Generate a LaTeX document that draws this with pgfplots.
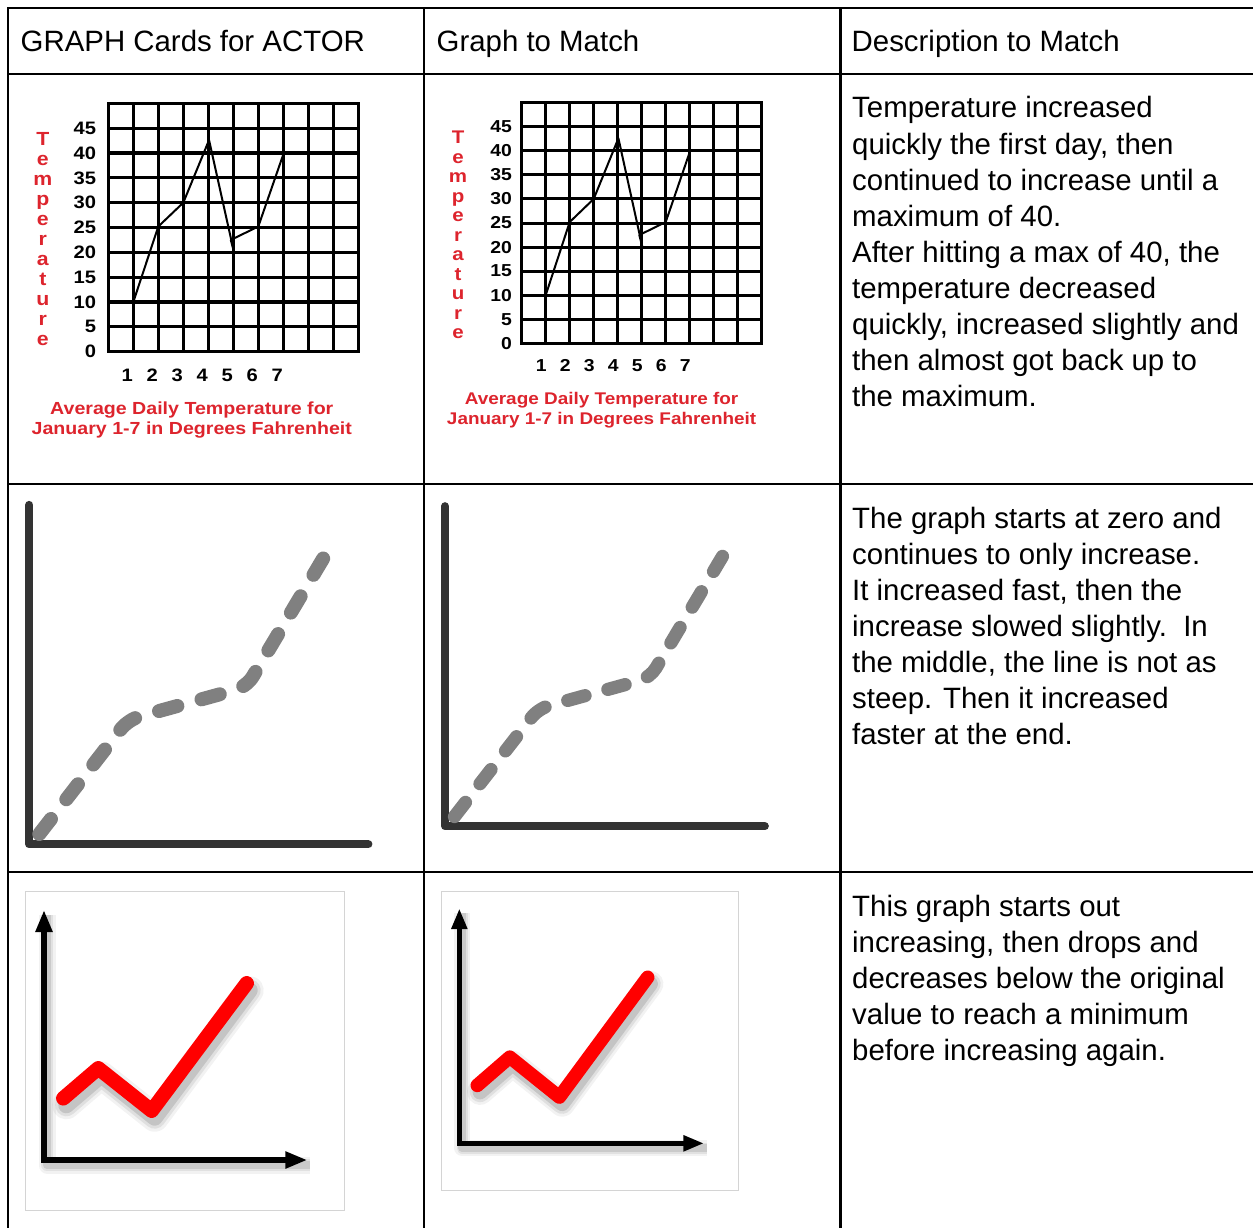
\documentclass[border=0pt]{standalone}
\usepackage{fontspec}
\setmainfont{Liberation Sans}
\newfontfamily\gfont{Liberation Sans}[FakeStretch=1.12]
\usepackage{pgfplots}
\usepackage{pgfplotstable}
\pgfplotsset{compat=1.18}
\usetikzlibrary{arrows.meta}
\definecolor{lab}{RGB}{221,36,45}
\definecolor{axd}{RGB}{51,51,51}
\definecolor{dsh}{RGB}{128,128,128}

\pgfplotstableread{
x y
1 10
2 25.2
3 30
4.03 42.6
5.02 20.2
4.9 22.5
6 25.2
7.02 40
}\tempdata

\pgfplotstableread{
x y
0 339.3
0 0
339 0
}\axBdata

\pgfplotstableread{
x y
10 10.3
99 124.8
217.3 157.4
294 286
}\curvedata

\pgfplotstableread{
x y
0 250
0 0
263.3 0
}\axCdata

\pgfplotstableread{
x y
19.3 61.7
54.3 91.7
107.7 49.3
202.7 176.7
}\redcheckdata

\newcommand\desc{\fontsize{29.4}{36}\selectfont}
\newcommand\tl[3]{\node[anchor=base west,inner sep=0pt,font=\desc] at (#1,#2) {#3};}

\begin{document}
\begin{tikzpicture}
\useasboundingbox (0pt,0pt) rectangle (1253pt,-1228pt);

% ---------- table and text ----------
\begin{scope}[x=1pt,y=-1pt]
\draw[line width=2.7pt,line cap=rect] (8,8) -- (1275,8);
\draw[line width=2.7pt,line cap=rect] (8,74) -- (1275,74);
\draw[line width=2.7pt,line cap=rect] (8,484) -- (1275,484);
\draw[line width=2.7pt,line cap=rect] (8,872) -- (1275,872);
\draw[line width=2.7pt,line cap=rect] (8,8) -- (8,1240);
\draw[line width=2.7pt,line cap=rect] (424,8) -- (424,1240);
\draw[line width=2.7pt,line cap=rect] (840.5,8) -- (840.5,1240);

\tl{20.5}{52}{GRAPH Cards for ACTOR}
\tl{436.5}{52}{Graph to Match}
\tl{851.5}{52}{Description to Match}

\tl{852}{118}{Temperature increased}
\tl{852}{154}{quickly the first day, then}
\tl{852}{190}{continued to increase until a}
\tl{852}{226}{maximum of 40.}
\tl{852}{262}{After hitting a max of 40, the}
\tl{852}{298}{temperature decreased}
\tl{852}{334}{quickly, increased slightly and}
\tl{852}{370}{then almost got back up to}
\tl{852}{406}{the maximum.}

\tl{852}{528}{The graph starts at zero and}
\tl{852}{564}{continues to only increase.}
\tl{852}{600}{It increased fast, then the}
\tl{852}{636}{increase slowed slightly.~\ In}
\tl{852}{672}{the middle, the line is not as}
\tl{852}{708}{steep. Then it increased}
\tl{852}{744}{faster at the end.}

\tl{852}{916}{This graph starts out}
\tl{852}{952}{increasing, then drops and}
\tl{852}{988}{decreases below the original}
\tl{852}{1024}{value to reach a minimum}
\tl{852}{1060}{before increasing again.}
\end{scope}

% ---------- temperature graph, column 1 ----------
\begin{axis}[
  at={(108.3pt,-351.7pt)}, anchor=south west, scale only axis,
  width=250pt, height=248.4pt,
  xmin=0, xmax=10, ymin=0, ymax=50,
  xtick={0,...,10}, ytick={0,5,...,50},
  xticklabels={,1,2,3,4,5,6,7,,,},
  yticklabels={0,5,10,15,20,25,30,35,40,45,},
  grid=major, major grid style={black,line width=3.1pt},
  axis line style={black,line width=3.1pt},
  major tick length=0pt,
  tick label style={font=\gfont\bfseries\fontsize{18}{20}\selectfont},
  xticklabel style={anchor=north,inner sep=0pt,yshift=-17pt,xshift=-6pt},
  yticklabel style={anchor=east,inner sep=0pt,xshift=-12pt},
  ylabel={\begin{tabular}{@{}c@{}}T\\e\\m\\p\\e\\r\\a\\t\\u\\r\\e\end{tabular}},
  ylabel style={rotate=-90,at={(axis description cs:-0.262,0.443)},anchor=center,
    text=lab,font=\gfont\bfseries\fontsize{19}{20}\selectfont},
  xlabel={Average Daily Temperature for\\January 1-7 in Degrees Fahrenheit},
  xlabel style={at={(axis description cs:0.334,-0.275)},anchor=center,align=center,
    text=lab,font=\gfont\bfseries\fontsize{17.5}{20}\selectfont},
]
\addplot[black,line width=2pt,line join=round] table {\tempdata};
\end{axis}

% ---------- temperature graph, column 2 ----------
\begin{axis}[
  at={(521.7pt,-343.3pt)}, anchor=south west, scale only axis,
  width=240pt, height=240.6pt,
  xmin=0, xmax=10, ymin=0, ymax=50,
  xtick={0,...,10}, ytick={0,5,...,50},
  xticklabels={,1,2,3,4,5,6,7,,,},
  yticklabels={0,5,10,15,20,25,30,35,40,45,},
  grid=major, major grid style={black,line width=3pt},
  axis line style={black,line width=3pt},
  major tick length=0pt,
  tick label style={font=\gfont\bfseries\fontsize{17.3}{19.5}\selectfont},
  xticklabel style={anchor=north,inner sep=0pt,yshift=-16pt,xshift=-4.5pt},
  yticklabel style={anchor=east,inner sep=0pt,xshift=-9.5pt},
  ylabel={\begin{tabular}{@{}c@{}}T\\e\\m\\p\\e\\r\\a\\t\\u\\r\\e\end{tabular}},
  ylabel style={rotate=-90,at={(axis description cs:-0.265,0.44)},anchor=center,
    text=lab,font=\gfont\bfseries\fontsize{18.3}{19.5}\selectfont},
  xlabel={Average Daily Temperature for\\January 1-7 in Degrees Fahrenheit},
  xlabel style={at={(axis description cs:0.333,-0.277)},anchor=center,align=center,
    text=lab,font=\gfont\bfseries\fontsize{16.9}{19.5}\selectfont},
]
\addplot[black,line width=2pt,line join=round] table {\tempdata};
\end{axis}

% ---------- dashed growth graph, column 1 ----------
\begin{axis}[at={(29.3pt,-844.3pt)}, anchor=south west, scale only axis,
  width=340pt, height=340pt, xmin=0, xmax=340, ymin=0, ymax=340,
  hide axis, clip=false]
\addplot[axd,line width=8.3pt,line cap=round,line join=round] table {\axBdata};
\addplot[dsh,line width=14pt,line cap=round,dash pattern=on 19pt off 25pt,
  rounded corners=12pt] table {\curvedata};
\end{axis}

% ---------- dashed growth graph, column 2 ----------
\begin{axis}[at={(445pt,-826.3pt)}, anchor=south west, scale only axis,
  width=320.9pt, height=320.9pt, xmin=0, xmax=340, ymin=0, ymax=340,
  hide axis, clip=false]
\addplot[axd,line width=7.8pt,line cap=round,line join=round] table {\axBdata};
\addplot[dsh,line width=13.2pt,line cap=round,dash pattern=on 18pt off 23.6pt,
  rounded corners=11pt] table {\curvedata};
\end{axis}

% ---------- red check graph, column 1 ----------
\begin{axis}[at={(25pt,-1210pt)}, anchor=south west, scale only axis,
  width=319.3pt, height=318.3pt, xmin=-19, xmax=300.3, ymin=-50, ymax=268.3,
  axis line style={draw=black!17,line width=1pt}, xtick=\empty, ytick=\empty,
  clip=false]
\addplot[black,opacity=0.05,line width=17pt,line join=round] table[x expr=\thisrow{x}+3,y expr=\thisrow{y}-5] {\axCdata};
\addplot[black,opacity=0.07,line width=12pt,line join=round] table[x expr=\thisrow{x}+3,y expr=\thisrow{y}-5] {\axCdata};
\addplot[black,opacity=0.10,line width=8pt,line join=round] table[x expr=\thisrow{x}+3,y expr=\thisrow{y}-5] {\axCdata};
\addplot[black,line width=5.3pt,arrows={Triangle[length=22pt,width=16pt]-Triangle[length=22pt,width=16pt]}] table {\axCdata};
\addplot[black,opacity=0.05,line width=28pt,line cap=round,line join=round] table[x expr=\thisrow{x}+3,y expr=\thisrow{y}-7] {\redcheckdata};
\addplot[black,opacity=0.08,line width=22pt,line cap=round,line join=round] table[x expr=\thisrow{x}+3,y expr=\thisrow{y}-7] {\redcheckdata};
\addplot[black,opacity=0.12,line width=16pt,line cap=round,line join=round] table[x expr=\thisrow{x}+3,y expr=\thisrow{y}-7] {\redcheckdata};
\addplot[color=red,line width=14.5pt,line cap=round,line join=round] table {\redcheckdata};
\end{axis}

% ---------- red check graph, column 2 ----------
\begin{axis}[at={(441.7pt,-1190.3pt)}, anchor=south west, scale only axis,
  width=296.6pt, height=299pt, xmin=-19, xmax=300.3, ymin=-50, ymax=268.3,
  axis line style={draw=black!17,line width=1pt}, xtick=\empty, ytick=\empty,
  clip=false]
\addplot[black,opacity=0.05,line width=16pt,line join=round] table[x expr=\thisrow{x}+3,y expr=\thisrow{y}-5] {\axCdata};
\addplot[black,opacity=0.07,line width=11pt,line join=round] table[x expr=\thisrow{x}+3,y expr=\thisrow{y}-5] {\axCdata};
\addplot[black,opacity=0.10,line width=7.5pt,line join=round] table[x expr=\thisrow{x}+3,y expr=\thisrow{y}-5] {\axCdata};
\addplot[black,line width=5pt,arrows={Triangle[length=20.5pt,width=15pt]-Triangle[length=20.5pt,width=15pt]}] table {\axCdata};
\addplot[black,opacity=0.05,line width=26pt,line cap=round,line join=round] table[x expr=\thisrow{x}+3,y expr=\thisrow{y}-7] {\redcheckdata};
\addplot[black,opacity=0.08,line width=20.5pt,line cap=round,line join=round] table[x expr=\thisrow{x}+3,y expr=\thisrow{y}-7] {\redcheckdata};
\addplot[black,opacity=0.12,line width=15pt,line cap=round,line join=round] table[x expr=\thisrow{x}+3,y expr=\thisrow{y}-7] {\redcheckdata};
\addplot[color=red,line width=13.6pt,line cap=round,line join=round] table {\redcheckdata};
\end{axis}

\end{tikzpicture}
\end{document}
